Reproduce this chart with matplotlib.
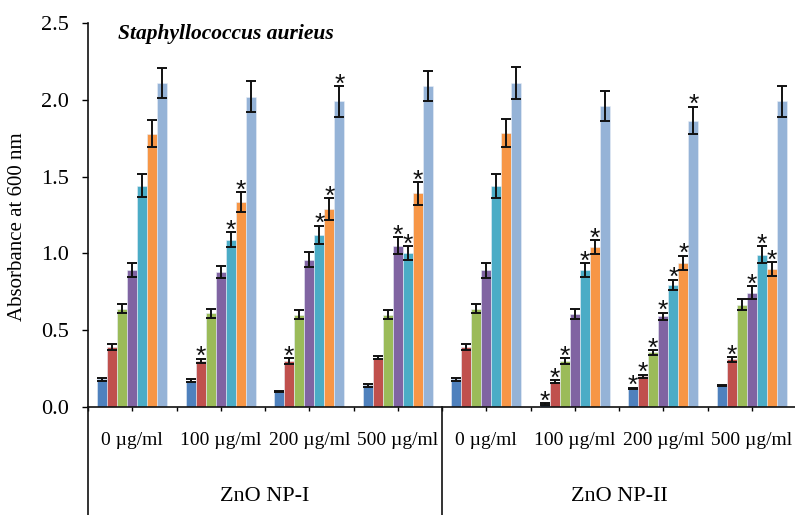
import matplotlib
matplotlib.use('Agg')
import matplotlib.pyplot as plt
import matplotlib.transforms as mtransforms
import numpy as np

plt.rcParams['font.family'] = ['Liberation Serif', 'DejaVu Serif']

# groups (doses) and treatment
doses = ['0 µg/ml', '100 µg/ml', '200 µg/ml', '500 µg/ml',
         '0 µg/ml', '100 µg/ml', '200 µg/ml', '500 µg/ml']
treatments = ['ZnO NP-I', 'ZnO NP-II']

# seven series per group
blue = [0.18, 0.17, 0.10, 0.14, 0.18, 0.02, 0.12, 0.14]
blue_err = [0.01, 0.01, 0.005, 0.01, 0.01, 0.005, 0.005, 0.005]
red = [0.39, 0.30, 0.30, 0.32, 0.39, 0.165, 0.20, 0.31]
red_err = [0.02, 0.015, 0.02, 0.01, 0.02, 0.01, 0.01, 0.015]
green = [0.64, 0.61, 0.60, 0.60, 0.64, 0.30, 0.355, 0.665]
green_err = [0.03, 0.03, 0.03, 0.03, 0.03, 0.02, 0.015, 0.035]
purple = [0.89, 0.88, 0.96, 1.05, 0.89, 0.605, 0.59, 0.745]
purple_err = [0.045, 0.04, 0.05, 0.055, 0.05, 0.03, 0.025, 0.04]
teal = [1.44, 1.09, 1.12, 1.00, 1.44, 0.89, 0.795, 0.99]
teal_err = [0.075, 0.05, 0.06, 0.045, 0.08, 0.045, 0.035, 0.055]
orange = [1.78, 1.335, 1.29, 1.39, 1.785, 1.04, 0.94, 0.90]
orange_err = [0.09, 0.065, 0.07, 0.075, 0.09, 0.045, 0.045, 0.045]
light = [2.11, 2.02, 1.99, 2.09, 2.11, 1.96, 1.865, 1.99]
light_err = [0.10, 0.10, 0.10, 0.10, 0.105, 0.10, 0.09, 0.10]

# significance marks (1 = asterisk)
blue_sig = [0, 0, 0, 0, 0, 1, 1, 0]
red_sig = [0, 1, 1, 0, 0, 1, 1, 1]
green_sig = [0, 0, 0, 0, 0, 1, 1, 0]
purple_sig = [0, 0, 0, 1, 0, 0, 1, 1]
teal_sig = [0, 1, 1, 1, 0, 1, 1, 1]
orange_sig = [0, 1, 1, 1, 0, 1, 1, 1]
light_sig = [0, 0, 1, 0, 0, 0, 1, 0]

series = [(blue, blue_err, blue_sig, '#4F81BD'),
          (red, red_err, red_sig, '#C0504D'),
          (green, green_err, green_sig, '#9BBB59'),
          (purple, purple_err, purple_sig, '#8064A2'),
          (teal, teal_err, teal_sig, '#4BACC6'),
          (orange, orange_err, orange_sig, '#F79646'),
          (light, light_err, light_sig, '#95B3D7')]

fig = plt.figure(figsize=(7.95, 5.15), dpi=100)
ax = fig.add_axes([88 / 795, 108 / 515, 708 / 795, 384 / 515])

x = np.arange(len(doses))
w = 0.113
for i, (vals, errs, sig, col) in enumerate(series):
    pos = x + (i - 3) * w
    ax.bar(pos, vals, w, color=col, edgecolor='#e8eef7', linewidth=0.4, zorder=2)
    ax.errorbar(pos, vals, yerr=errs, fmt='none', ecolor='#111111',
                elinewidth=1.4, capsize=3.6, capthick=1.4, zorder=3)
    for p, v, e, s in zip(pos, vals, errs, sig):
        if s:
            ax.annotate('*', (p, v + e), xytext=(0, -4), textcoords='offset points',
                        ha='center', va='baseline', fontsize=19,
                        family='Liberation Sans', color='#111111', zorder=4)

ax.set_xlim(-0.5, 7.5)
ax.set_ylim(0, 2.5)
ax.set_yticks(np.arange(0, 2.51, 0.5))
ax.set_yticklabels(['%.1f' % t for t in np.arange(0, 2.51, 0.5)])
ax.tick_params(axis='y', direction='out', length=4.5, width=1, labelsize=16, pad=9)
ax.set_xticks(x)
ax.set_xticks(np.arange(-0.5, 8, 1), minor=True)
ax.tick_params(axis='x', which='both', direction='out', length=3, width=1,
               labelbottom=False)

for s in ['top', 'right']:
    ax.spines[s].set_visible(False)
for s in ['left', 'bottom']:
    ax.spines[s].set_linewidth(1.2)
    ax.spines[s].set_color('#111111')

# y axis title
fig.text(18 / 795, 1 - 227 / 515, 'Absorbance at 600 nm', rotation=90,
         ha='center', va='center', fontsize=15)

ax.text(0.042, 2.43, 'Staphyllococcus aurieus',
        transform=mtransforms.blended_transform_factory(ax.transAxes, ax.transData),
        fontsize=15.5, style='italic', fontweight='bold', va='center', ha='left')

# category labels under the axis
trans = mtransforms.blended_transform_factory(ax.transData, ax.transAxes)
for xi, lab in zip(x, doses):
    ax.text(xi, -0.086, lab, transform=trans, ha='center', va='center', fontsize=14)
ax.text(1.5, -0.234, treatments[0], transform=trans, ha='center', va='center', fontsize=16)
ax.text(5.5, -0.234, treatments[1], transform=trans, ha='center', va='center', fontsize=16)

# separator lines below the axis
for xs in [-0.5, 3.5]:
    ax.plot([xs, xs], [0, -0.3], transform=trans, color='#111111', lw=1.2,
            clip_on=False, zorder=5)

fig.savefig('out.png', dpi=100)
